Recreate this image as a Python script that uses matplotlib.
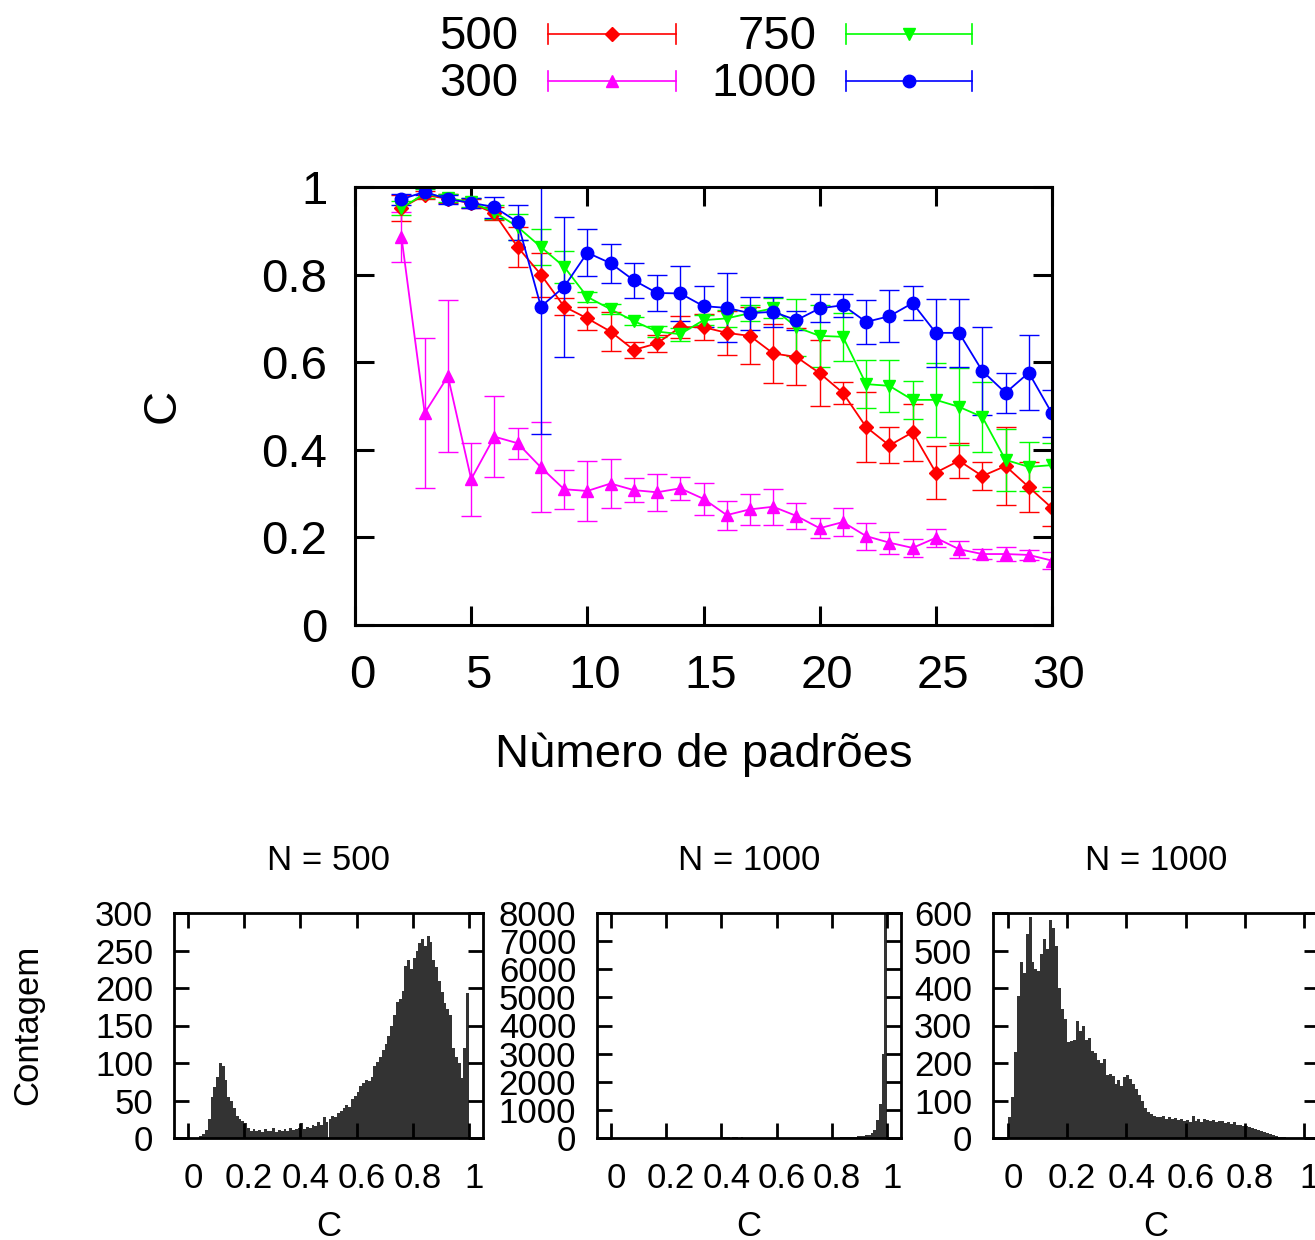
import numpy as np
import matplotlib
matplotlib.use("Agg")
import matplotlib.pyplot as plt
from matplotlib.ticker import FuncFormatter
from matplotlib.transforms import ScaledTranslation

plt.rcParams['font.family'] = ['Liberation Sans', 'DejaVu Sans']

# ---------------- data: main panel ----------------
n_patterns = list(range(2, 31))

c_500 = [0.952, 0.982, 0.973, 0.963, 0.940, 0.863, 0.800, 0.727, 0.700, 0.670,
         0.628, 0.643, 0.680, 0.680, 0.667, 0.660, 0.620, 0.612, 0.575, 0.530,
         0.452, 0.410, 0.440, 0.348, 0.375, 0.340, 0.363, 0.315, 0.267]
err_500 = [0.030, 0.010, 0.010, 0.010, 0.015, 0.045, 0.050, 0.020, 0.027, 0.045,
           0.018, 0.020, 0.025, 0.030, 0.050, 0.065, 0.067, 0.065, 0.075, 0.025,
           0.080, 0.041, 0.065, 0.060, 0.040, 0.032, 0.090, 0.058, 0.040]

c_300 = [0.886, 0.484, 0.568, 0.333, 0.430, 0.415, 0.360, 0.310, 0.306, 0.323,
         0.308, 0.303, 0.312, 0.288, 0.251, 0.264, 0.270, 0.249, 0.221, 0.235,
         0.203, 0.188, 0.176, 0.199, 0.173, 0.162, 0.162, 0.160, 0.147]
err_300 = [0.058, 0.172, 0.173, 0.083, 0.093, 0.035, 0.103, 0.045, 0.068, 0.055,
           0.027, 0.042, 0.026, 0.037, 0.033, 0.035, 0.041, 0.030, 0.023, 0.031,
           0.031, 0.025, 0.020, 0.021, 0.019, 0.011, 0.017, 0.012, 0.020]

c_750 = [0.952, 0.985, 0.975, 0.965, 0.943, 0.909, 0.863, 0.818, 0.749, 0.721,
         0.694, 0.670, 0.664, 0.696, 0.700, 0.712, 0.723, 0.680, 0.660, 0.658,
         0.550, 0.546, 0.514, 0.514, 0.498, 0.475, 0.377, 0.361, 0.365]
err_750 = [0.015, 0.010, 0.010, 0.010, 0.015, 0.030, 0.040, 0.037, 0.012, 0.012,
           0.010, 0.012, 0.015, 0.012, 0.020, 0.018, 0.023, 0.065, 0.070, 0.055,
           0.055, 0.060, 0.043, 0.085, 0.088, 0.080, 0.070, 0.056, 0.050]

c_1000 = [0.972, 0.989, 0.972, 0.964, 0.954, 0.920, 0.727, 0.772, 0.850, 0.826,
          0.787, 0.758, 0.757, 0.728, 0.724, 0.712, 0.715, 0.696, 0.723, 0.730,
          0.692, 0.705, 0.735, 0.667, 0.667, 0.580, 0.530, 0.576, 0.483]
err_1000 = [0.012, 0.008, 0.010, 0.012, 0.024, 0.040, 0.290, 0.160, 0.053, 0.045,
            0.040, 0.042, 0.063, 0.047, 0.079, 0.038, 0.035, 0.022, 0.032, 0.026,
            0.051, 0.060, 0.038, 0.077, 0.077, 0.100, 0.045, 0.085, 0.053]

series_labels = ['500', '300', '750', '1000']
series_colors = ['#ff0000', '#ff00ff', '#00ff00', '#0000ff']
series_markers = ['D', '^', 'v', 'o']

# ---------------- data: histograms (counts per bin of width 0.01) ----------------
bin_width = 0.01
hist_500 = [0, 0, 0, 0, 3, 5, 11, 26, 55, 68,
            82, 100, 96, 78, 55, 49, 40, 30, 26, 23,
            20, 13, 10, 12, 9, 11, 8, 12, 9, 10,
            13, 8, 11, 9, 12, 10, 13, 11, 12, 14,
            20, 12, 15, 13, 17, 16, 22, 18, 28, 22,
            26, 29, 28, 33, 36, 40, 44, 42, 52, 56,
            62, 70, 74, 78, 76, 82, 96, 102, 108, 118,
            126, 136, 150, 164, 182, 186, 196, 230, 238, 226,
            240, 250, 260, 266, 256, 270, 262, 238, 228, 210,
            195, 180, 172, 164, 120, 108, 100, 80, 120, 194]

hist_1000a = [0] * 40 + [
            20, 30, 25, 0, 30, 20, 0, 25, 0, 0,
            0, 0, 0, 0, 0, 0, 0, 0, 0, 0,
            0, 0, 0, 0, 0, 0, 0, 0, 0, 0,
            0, 0, 0, 0, 0, 0, 0, 0, 0, 0,
            0, 0, 0, 20, 25, 30, 20, 30, 40, 60,
            70, 80, 100, 120, 180, 300, 650, 1200, 3000, 8300]

hist_1000b = [55, 110, 230, 380, 470, 440, 545, 590, 470, 450,
              445, 490, 530, 505, 582, 560, 512, 400, 345, 318,
              255, 260, 262, 312, 285, 300, 262, 268, 232, 228,
              208, 200, 210, 168, 172, 166, 145, 155, 140, 162,
              168, 158, 145, 130, 116, 100, 80, 70, 65, 60,
              57, 55, 58, 52, 55, 50, 53, 48, 50, 46,
              47, 44, 58, 46, 50, 43, 51, 48, 45, 47,
              42, 45, 46, 40, 44, 38, 42, 36, 34, 33,
              33, 30, 28, 25, 22, 20, 17, 14, 10, 8,
              6, 4, 3, 2, 1, 0, 0, 0, 0, 0]

hist_titles = ['N = 500', 'N = 1000', 'N = 1000']
hist_ylims = [300, 8000, 600]
hist_ysteps = [50, 1000, 100]
hist_xticks = [0, 0.2, 0.4, 0.6, 0.8, 1.0]

# ---------------- figure ----------------
W, H = 1315, 1240
fig = plt.figure(figsize=(W / 100, H / 100), dpi=100)


def frac(left, top, right, bottom):
    return [left / W, 1 - bottom / H, (right - left) / W, (bottom - top) / H]


def shift_xlabels(axis, px):
    off = ScaledTranslation(px / 100, 0, fig.dpi_scale_trans)
    for lab in axis.get_xticklabels():
        lab.set_transform(lab.get_transform() + off)


fmt = FuncFormatter(lambda v, p: f"{v:g}")

# main panel
ax = fig.add_axes(frac(355, 187, 1052, 625))
data = [(c_500, err_500), (c_300, err_300), (c_750, err_750), (c_1000, err_1000)]
for (vals, errs), col, mk in zip(data, series_colors, series_markers):
    ms = 9 if mk == 'o' else (7 if mk == 'D' else 8)
    ax.errorbar(n_patterns, vals, yerr=errs, color=col, marker=mk, markersize=ms,
                linewidth=1.3, elinewidth=1.0, capsize=7.2, capthick=1.0)
ax.set_xlim(0, 30)
ax.set_ylim(0, 1)
ax.set_xticks([0, 5, 10, 15, 20, 25, 30])
ax.set_yticks([0, 0.2, 0.4, 0.6, 0.8, 1.0])
ax.xaxis.set_major_formatter(fmt)
ax.yaxis.set_major_formatter(fmt)
ax.tick_params(direction='in', length=14, width=2.2, top=True, right=True,
               labelsize=34)
ax.tick_params(axis='x', pad=21)
ax.tick_params(axis='y', pad=20)
for s in ax.spines.values():
    s.set_linewidth(2.2)
shift_xlabels(ax, 7)
ax.set_xlabel('Nùmero de padrões', fontsize=34)
ax.xaxis.label.set_va('center')
ax.xaxis.set_label_coords(0.5, (625 - 755) / 438)
ax.set_ylabel('C', fontsize=34)
ax.yaxis.label.set_va('center')
ax.yaxis.set_label_coords((163 - 355) / 697, 0.5)

# histograms
hist_boxes = [(174, 483), (597, 901), (993, 1319)]
bin_left = np.arange(len(hist_500)) * bin_width
for i, (counts, title, ymax, ystep, (l, r)) in enumerate(
        zip([hist_500, hist_1000a, hist_1000b], hist_titles, hist_ylims,
            hist_ysteps, hist_boxes)):
    hx = fig.add_axes(frac(l, 913, r, 1138))
    hx.bar(bin_left, counts, width=bin_width, align='edge', color='#333333',
           linewidth=0)
    hx.set_xlim(-0.05, 1.05)
    hx.set_ylim(0, ymax)
    hx.set_xticks(hist_xticks)
    hx.set_yticks(np.arange(0, ymax + 1, ystep))
    hx.xaxis.set_major_formatter(fmt)
    hx.tick_params(direction='in', length=11, width=2, top=True, right=True,
                   labelsize=25)
    hx.tick_params(axis='x', pad=17)
    hx.tick_params(axis='y', pad=15)
    for s in hx.spines.values():
        s.set_linewidth(2)
    shift_xlabels(hx, 5)
    hx.text(0.5, 1 + (913 - 860) / 225, title, transform=hx.transAxes,
            ha='center', va='center', fontsize=25)
    hx.set_xlabel('C', fontsize=25)
    hx.xaxis.label.set_va('center')
    hx.xaxis.set_label_coords(0.5, (1138 - 1226) / 225)
    if i == 0:
        hx.set_ylabel('Contagem', fontsize=25)
        hx.yaxis.label.set_va('center')
        hx.yaxis.set_label_coords((28 - l) / (r - l), (1138 - 1025) / 225)

# legend drawn in figure pixel space
lax = fig.add_axes([0, 0, 1, 1], zorder=5)
lax.set_xlim(0, W)
lax.set_ylim(H, 0)
lax.axis('off')
leg_slots = [(518, 548, 676, 34), (518, 548, 676, 81),
             (817, 846, 972, 34), (817, 846, 972, 81)]
for lab, col, mk, (tx, x0, x1, y) in zip(series_labels, series_colors,
                                         series_markers, leg_slots):
    lax.text(tx, y + 3, lab, ha='right', va='center', fontsize=34)
    lax.plot([x0, x1], [y, y], color=col, linewidth=1.2)
    lax.plot([x0, x0], [y - 10, y + 10], color=col, linewidth=1.2)
    lax.plot([x1, x1], [y - 10, y + 10], color=col, linewidth=1.2)
    ms = 9 if mk == 'o' else (7 if mk == 'D' else 8)
    lax.plot([(x0 + x1) / 2], [y], marker=mk, color=col, markersize=ms,
             linestyle='none')

fig.savefig('out.png', dpi=100)
